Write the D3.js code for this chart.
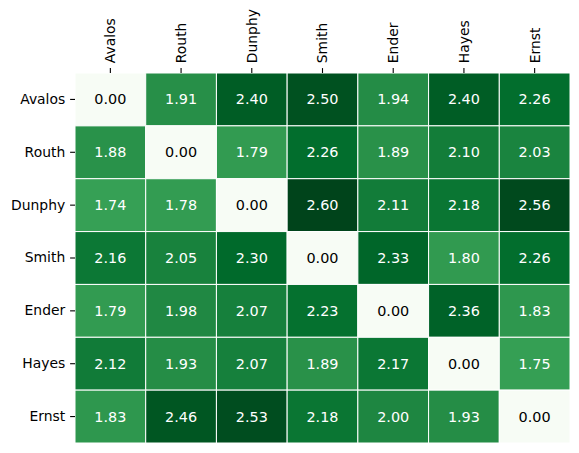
<!DOCTYPE html>
<html>
<head>
<meta charset="utf-8">
<script src="https://cdn.jsdelivr.net/npm/d3@7"></script>
<style>
  body { margin: 0; background: #fff; }
  text { font-family: "DejaVu Sans", sans-serif; }
</style>
</head>
<body>
<div id="chart"></div>
<script>
// names along both axes
var names = ["Avalos", "Routh", "Dunphy", "Smith", "Ender", "Hayes", "Ernst"];

// one row of values per name (row = y axis, column = x axis)
var rowAvalos = [0.00, 1.91, 2.40, 2.50, 1.94, 2.40, 2.26];
var rowRouth  = [1.88, 0.00, 1.79, 2.26, 1.89, 2.10, 2.03];
var rowDunphy = [1.74, 1.78, 0.00, 2.60, 2.11, 2.18, 2.56];
var rowSmith  = [2.16, 2.05, 2.30, 0.00, 2.33, 1.80, 2.26];
var rowEnder  = [1.79, 1.98, 2.07, 2.23, 0.00, 2.36, 1.83];
var rowHayes  = [2.12, 1.93, 2.07, 1.89, 2.17, 0.00, 1.75];
var rowErnst  = [1.83, 2.46, 2.53, 2.18, 2.00, 1.93, 0.00];
var rows = [rowAvalos, rowRouth, rowDunphy, rowSmith, rowEnder, rowHayes, rowErnst];

// ColorBrewer Greens, stepped linearly like matplotlib does it
var greens = ["#f7fcf5", "#e5f5e0", "#c7e9c0", "#a1d99b", "#74c476",
              "#41ab5d", "#238b45", "#006d2c", "#00441b"];

function heatmap() {
  var W = 579, H = 453;
  var margin = {top: 73, right: 9, bottom: 10, left: 75};
  var width = W - margin.left - margin.right,
      height = H - margin.top - margin.bottom;

  var svg = d3.select("#chart")
    .append("svg")
      .attr("width", W)
      .attr("height", H)
    .append("g")
      .attr("transform", "translate(" + margin.left + "," + margin.top + ")");

  var cells = [];
  rows.forEach(function(r, i) {
    r.forEach(function(v, j) {
      cells.push({row: names[i], col: names[j], value: v});
    });
  });

  var x = d3.scaleBand().domain(names).range([0, width]);
  var y = d3.scaleBand().domain(names).range([0, height]);

  var vmax = d3.max(cells, function(d) { return d.value; });
  var color = d3.scaleLinear()
    .domain(d3.range(greens.length).map(function(i) { return vmax * i / (greens.length - 1); }))
    .range(greens)
    .interpolate(d3.interpolateRgb)
    .clamp(true);

  // pick text colour from the cell luminance, like seaborn
  function lum(c) {
    var rgb = d3.rgb(c);
    var f = function(v) {
      v = v / 255;
      return v <= 0.03928 ? v / 12.92 : Math.pow((v + 0.055) / 1.055, 2.4);
    };
    return 0.2126 * f(rgb.r) + 0.7152 * f(rgb.g) + 0.0722 * f(rgb.b);
  }

  svg.selectAll("rect")
    .data(cells)
    .enter()
    .append("rect")
      .attr("x", function(d) { return x(d.col); })
      .attr("y", function(d) { return y(d.row); })
      .attr("width", x.bandwidth())
      .attr("height", y.bandwidth())
      .attr("fill", function(d) { return color(d.value); })
      .attr("stroke", "#fff")
      .attr("stroke-width", 1);

  svg.selectAll("text.annot")
    .data(cells)
    .enter()
    .append("text")
      .attr("class", "annot")
      .attr("x", function(d) { return x(d.col) + x.bandwidth() / 2; })
      .attr("y", function(d) { return y(d.row) + y.bandwidth() / 2; })
      .attr("text-anchor", "middle")
      .attr("dominant-baseline", "central")
      .attr("font-size", "14.4px")
      .attr("fill", function(d) { return lum(color(d.value)) > 0.408 ? "#000" : "#fff"; })
      .text(function(d) { return d3.format(".2f")(d.value); });

  // top axis, labels turned upright
  var xAxis = svg.append("g")
    .call(d3.axisTop(x).tickSize(4.9).tickPadding(4.9));
  xAxis.select(".domain").remove();
  xAxis.selectAll(".tick line").attr("stroke", "#000").attr("stroke-width", 1.1);
  xAxis.selectAll(".tick text")
    .attr("font-size", "13.9px")
    .attr("font-family", "DejaVu Sans, sans-serif")
    .attr("fill", "#000")
    .attr("text-anchor", "start")
    .attr("dy", "0.35em")
    .attr("transform", "rotate(-90)")
    .attr("x", 9.8)
    .attr("y", 0);

  // left axis
  var yAxis = svg.append("g")
    .call(d3.axisLeft(y).tickSize(4.9).tickPadding(4.9));
  yAxis.select(".domain").remove();
  yAxis.selectAll(".tick line").attr("stroke", "#000").attr("stroke-width", 1.1);
  yAxis.selectAll(".tick text")
    .attr("font-size", "13.9px")
    .attr("font-family", "DejaVu Sans, sans-serif")
    .attr("fill", "#000");
}

heatmap();
</script>
</body>
</html>
